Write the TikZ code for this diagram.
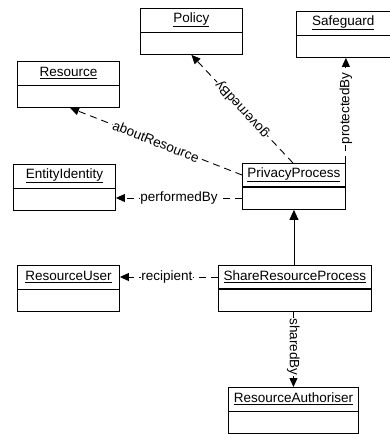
\documentclass[tikz,border=0pt]{standalone}
\usepackage{fontspec}
\setmainfont{Liberation Sans}
\usetikzlibrary{arrows.meta}
\begin{document}
\begin{tikzpicture}[x=1pt,y=-1pt,
  every node/.style={font=\fontsize{13.5}{16}\selectfont},
  cls/.style={draw,line width=0.9pt,anchor=north west,minimum height=46pt,inner sep=0pt,fill=white},
  clsname/.style={inner sep=0pt,anchor=center},
  assoc/.style={line width=0.9pt,dash pattern=on 7pt off 5pt,-{Triangle[length=9pt,width=8pt]}},
  gen/.style={line width=0.9pt,-{Triangle[length=10pt,width=9pt]}},
  lbl/.style={fill=white,inner xsep=0.4pt,inner ysep=0.3pt}]
\useasboundingbox (0,0) rectangle (390,434);
% classes
\newcommand{\umlclass}[6]{%
  \node[cls,minimum width=#4pt] (#1) at (#2,#3) {};
  \draw[line width=#6] ([yshift=-24pt]#1.north west) -- ([yshift=-24pt]#1.north east);
  \node[clsname] (#1n) at ([yshift=-12pt]#1.north) {\underline{#5}};}
\umlclass{policy}{140}{8}{102}{Policy}{0.9pt}
\umlclass{safeguard}{296}{11}{93.5}{Safeguard}{0.9pt}
\umlclass{resource}{17}{61}{102}{Resource}{0.9pt}
\umlclass{ei}{13}{164}{102}{EntityIdentity}{0.9pt}
\umlclass{pp}{242}{163}{103}{PrivacyProcess}{2pt}
\umlclass{ru}{17}{265}{102}{ResourceUser}{0.9pt}
\umlclass{srp}{218}{265}{153}{ShareResourceProcess}{1.2pt}
\umlclass{ra}{228}{387}{130}{ResourceAuthoriser}{0.9pt}
% anchor points
\coordinate (ppperf) at ([yshift=-35pt]pp.north west);
\coordinate (srprec) at ([yshift=-12pt]srp.north west);
% connectors
\draw[assoc] ([xshift=51pt]pp.north west) -- (policy.south)
  node[lbl,pos=0.5,rotate=132.6] (lgov) {governedBy};
\draw[assoc] ([yshift=-12pt]pp.north west) -- ([xshift=53pt]resource.south west)
  node[lbl,pos=0.5,rotate=-21.6] (labout) {aboutResource};
\draw[assoc] (pp.north east) -- (pp.north east |- safeguard.south)
  node[lbl,pos=0.52,rotate=90] (lprot) {protectedBy};
\draw[assoc] (ppperf) -- (ei.east |- ppperf)
  node[lbl,pos=0.5] (lperf) {performedBy};
\draw[gen] (pp.south |- srp.north) -- (pp.south);
\draw[assoc] (srprec) -- (ru.east |- srprec)
  node[lbl,pos=0.52] (lrec) {recipient};
\draw[assoc] (ra.north |- srp.south) -- (ra.north)
  node[lbl,pos=0.47,rotate=-90] (lshared) {sharedBy};
\end{tikzpicture}
\end{document}
